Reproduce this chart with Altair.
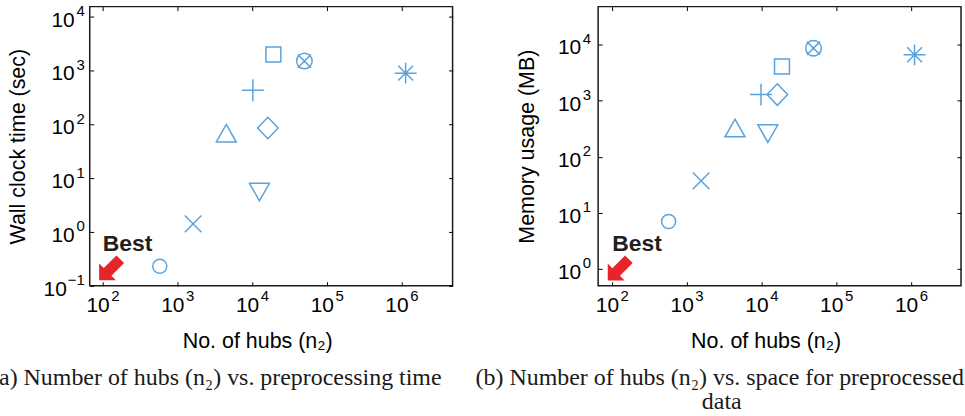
import altair as alt
import pandas as pd

# Marker keys, one per method (same order in both panels)
markers = ["circle", "x", "triangle-up", "triangle-down", "diamond",
           "plus", "square", "circle-x", "asterisk"]

# (a) number of hubs vs. preprocessing time
hubs_a = [580, 1620, 4500, 12500, 16200, 10200, 19200, 49900, 1130000]
time_sec = [0.23, 1.41, 68, 5.5, 85, 427, 1980, 1490, 890]

# (b) number of hubs vs. memory for preprocessed data
hubs_b = [570, 1550, 4400, 12100, 16200, 9800, 18700, 49300, 1110000]
memory_mb = [7.0, 37, 325, 258, 1280, 1280, 4070, 8600, 6560]

# Axis ticks (powers of ten) and their exponents
x_ticks = [1e2, 1e3, 1e4, 1e5, 1e6]
x_exps = [2, 3, 4, 5, 6]
y_ticks_a = [0.1, 1, 10, 100, 1000, 10000]
y_exps_a = [-1, 0, 1, 2, 3, 4]
y_ticks_b = [1, 10, 100, 1000, 10000]
y_exps_b = [0, 1, 2, 3, 4]

# "Best" annotation anchors (data coordinates)
best_a = {"x": [100], "y": [0.445]}
arrow_a = {"x": [124], "y": [0.198]}
best_b = {"x": [100], "y": [2.09]}
arrow_b = {"x": [121], "y": [0.96]}

captions_a = ["(a) Number of hubs (n\u2082) vs. preprocessing time"]
captions_b = ["(b) Number of hubs (n\u2082) vs. space for preprocessed", "data"]

BLUE = "#5ba3dc"
RED = "#e8242b"
SANS = "Liberation Sans"
SERIF = "Liberation Serif"


def exp_text(e):
    return str(e).replace("-", "\u2212")


# Marker outlines on a [-1, 1] box (11 px per unit at size 484)
def circle_path(r):
    return f"M{r},0 A{r},{r} 0 1,1 {-r},0 A{r},{r} 0 1,1 {r},0 Z"


shape_paths = [
    circle_path(0.64),
    "M-0.76,-0.76 L0.76,0.76 M-0.76,0.76 L0.76,-0.76",
    "M0,-0.8 L0.91,0.8 L-0.91,0.8 Z",
    "M0,0.8 L0.91,-0.8 L-0.91,-0.8 Z",
    "M0,-0.98 L0.94,0 L0,0.98 L-0.94,0 Z",
    "M-1,0 L1,0 M0,-1 L0,1",
    "M-0.68,-0.68 L0.68,-0.68 L0.68,0.68 L-0.68,0.68 Z",
    circle_path(0.71) + " M-0.6,-0.6 L0.6,0.6 M-0.6,0.6 L0.6,-0.6",
    "M-1,0 L1,0 M0,-0.95 L0,0.95 M-0.68,-0.68 L0.68,0.68 M-0.68,0.68 L0.68,-0.68",
]

# Block arrow pointing along +x, rotated to point down-left
arrow_path = "M-1,-0.36 L0.2,-0.36 L0.2,-0.8 L1,0 L0.2,0.8 L0.2,0.36 L-1,0.36 Z"

W, H = 364, 280
BASE_SIZE = 21
EXP_SIZE = 15


def panel(hubs, vals, xdom, ydom, yticks, yexps, ytitle, best, arrow, captions, ygap):
    df = pd.DataFrame({"hubs": hubs, "val": vals, "marker": markers})
    xs = alt.Scale(type="log", domain=xdom, nice=False)
    ys = alt.Scale(type="log", domain=ydom, nice=False)

    tick_style = dict(offset=-4, tickSize=4, tickColor="black", tickWidth=1,
                      domain=False, grid=False, labels=False)
    x_axis = alt.Axis(
        orient="bottom", values=x_ticks, **tick_style,
        title="No. of hubs (n\u2082)", titleFont=SANS, titleFontSize=21.5,
        titleFontWeight="normal", titleColor="black", titleBaseline="middle",
        titleX=168, titleY=60,
    )
    y_axis = alt.Axis(
        orient="left", values=yticks, **tick_style,
        title=ytitle, titleFont=SANS, titleFontSize=21.5, titleFontWeight="normal",
        titleColor="black", titleBaseline="middle", titleX=-75,
    )
    top_axis = alt.Axis(orient="top", values=x_ticks, title=None, **tick_style)
    right_axis = alt.Axis(orient="right", values=yticks, title=None, **tick_style)

    points = alt.Chart(df).mark_point(
        filled=False, strokeWidth=1.5, size=484, color=BLUE, opacity=1
    ).encode(
        x=alt.X("hubs:Q", scale=xs, axis=x_axis),
        y=alt.Y("val:Q", scale=ys, axis=y_axis),
        shape=alt.Shape("marker:N", scale=alt.Scale(domain=markers, range=shape_paths),
                        legend=None),
    )

    frame_ticks = alt.Chart(df).mark_point(opacity=0).encode(
        x=alt.X("hubs:Q", scale=xs, axis=top_axis),
        y=alt.Y("val:Q", scale=ys, axis=right_axis),
    )

    # Power-of-ten tick labels: "10" with a raised exponent
    xlab = pd.DataFrame({"tick": x_ticks, "exp": [exp_text(e) for e in x_exps]})
    ylab = pd.DataFrame({"tick": yticks, "e": yexps, "exp": [exp_text(e) for e in yexps]})
    txt = dict(font=SANS, color="black", baseline="alphabetic")
    xenc = dict(x=alt.X("tick:Q", scale=xs, axis=None))
    yenc = dict(y=alt.Y("tick:Q", scale=ys, axis=None))

    x_base = alt.Chart(xlab).mark_text(
        text="10", fontSize=BASE_SIZE, align="right", dx=7, **txt
    ).encode(y=alt.value(H + 26), **xenc)
    x_exp = alt.Chart(xlab).mark_text(
        fontSize=EXP_SIZE, align="left", dx=8.5, **txt
    ).encode(text="exp:N", y=alt.value(H + 15.5), **xenc)

    y_base_pos = alt.Chart(ylab).transform_filter("datum.e >= 0").mark_text(
        text="10", fontSize=BASE_SIZE, align="right", dx=-(ygap + 10), dy=10, **txt
    ).encode(x=alt.value(0), **yenc)
    y_base_neg = alt.Chart(ylab).transform_filter("datum.e < 0").mark_text(
        text="10", fontSize=BASE_SIZE, align="right", dx=-(ygap + 18), dy=10, **txt
    ).encode(x=alt.value(0), **yenc)
    y_exp = alt.Chart(ylab).mark_text(
        fontSize=EXP_SIZE, align="right", dx=-ygap, dy=-0.5, **txt
    ).encode(text="exp:N", x=alt.value(0), **yenc)

    best_text = alt.Chart(pd.DataFrame(best)).mark_text(
        text="Best", font=SANS, fontSize=23, fontWeight="bold", color="#231f20",
        align="left", baseline="alphabetic",
    ).encode(x=alt.X("x:Q", scale=xs, axis=None), y=alt.Y("y:Q", scale=ys, axis=None))

    best_arrow = alt.Chart(pd.DataFrame(arrow)).mark_point(
        shape=arrow_path, filled=True, fill=RED, strokeWidth=0, size=900, angle=135,
        opacity=1,
    ).encode(x=alt.X("x:Q", scale=xs, axis=None), y=alt.Y("y:Q", scale=ys, axis=None))

    layers = [points, frame_ticks, x_base, x_exp, y_base_pos, y_base_neg, y_exp,
              best_text, best_arrow]

    cap_x = [127] if len(captions) == 1 else [122, 124]
    for i, line in enumerate(captions):
        layers.append(
            alt.Chart(pd.DataFrame({"t": [line]})).mark_text(
                font=SERIF, fontSize=24, color="#1a1a1a", align="center",
                baseline="alphabetic",
            ).encode(text="t:N", x=alt.value(cap_x[i]), y=alt.value(380 + 24 * i))
        )

    return alt.layer(*layers).properties(width=W, height=H)


left = panel(hubs_a, time_sec, [67, 4.8e6], [0.1, 15300], y_ticks_a, y_exps_a,
             "Wall clock time (sec)", best_a, arrow_a, captions_a, 5)
right = panel(hubs_b, memory_mb, [65, 4.64e6], [0.5, 47400], y_ticks_b, y_exps_b,
              "Memory usage (MB)", best_b, arrow_b, captions_b, 7)

chart = alt.hconcat(left, right, spacing=146, bounds="flush").properties(
    padding={"left": -10, "top": 2, "right": 0, "bottom": 0},
    background="white",
).configure_view(stroke="#1a1a1a", strokeWidth=1.5)

chart.save("out.html", embed_options={"renderer": "svg", "actions": False})
